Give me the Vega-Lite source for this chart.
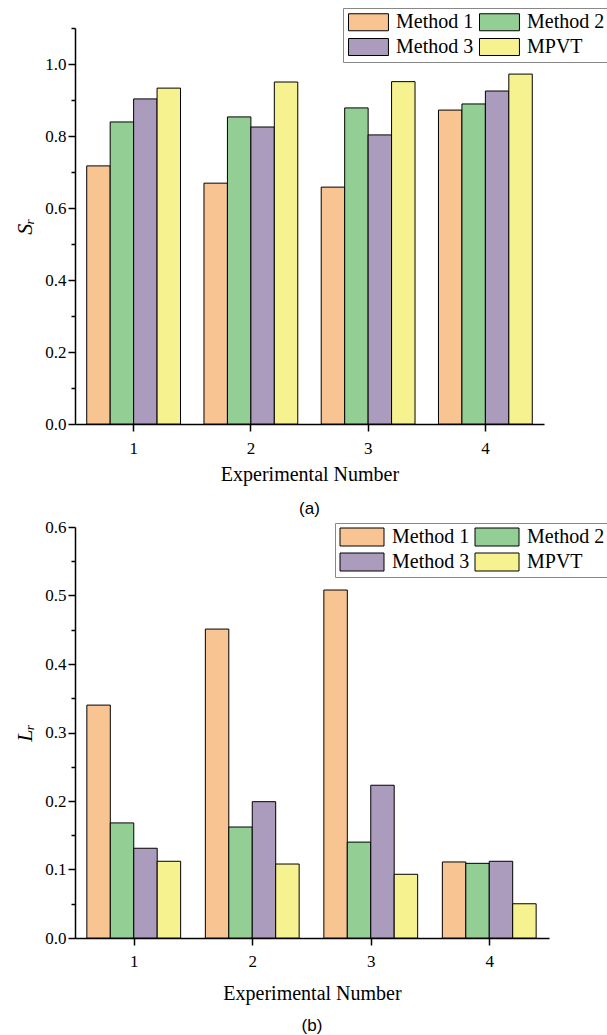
{
  "$schema": "https://vega.github.io/schema/vega-lite/v6.json",
  "background": "white",
  "padding": {"left": 13, "top": 7, "right": 0, "bottom": 0},
  "config": {
    "view": {"stroke": null},
    "axis": {
      "domainColor": "black", "domainWidth": 1.5, "tickColor": "black", "tickWidth": 1.5,
      "labelFont": "Liberation Serif", "labelFontSize": 17, "labelColor": "black",
      "titleFont": "Liberation Serif", "titleFontSize": 20, "titleFontWeight": "normal", "titleColor": "black",
      "grid": false
    },
    "legend": {
      "labelFont": "Liberation Serif", "labelFontSize": 20, "labelColor": "black",
      "symbolStrokeColor": "black", "symbolStrokeWidth": 1, "symbolOpacity": 1,
      "strokeColor": "#888888", "fillColor": "white", "padding": 4,
      "columns": 2, "direction": "horizontal", "columnPadding": 3, "title": null
    }
  },
  "datasets": {
    "sr": [
      {"exp": "1", "method": "Method 1", "value": 0.717},
      {"exp": "1", "method": "Method 2", "value": 0.839},
      {"exp": "1", "method": "Method 3", "value": 0.903},
      {"exp": "1", "method": "MPVT", "value": 0.933},
      {"exp": "2", "method": "Method 1", "value": 0.669},
      {"exp": "2", "method": "Method 2", "value": 0.853},
      {"exp": "2", "method": "Method 3", "value": 0.825},
      {"exp": "2", "method": "MPVT", "value": 0.950},
      {"exp": "3", "method": "Method 1", "value": 0.658},
      {"exp": "3", "method": "Method 2", "value": 0.878},
      {"exp": "3", "method": "Method 3", "value": 0.803},
      {"exp": "3", "method": "MPVT", "value": 0.951},
      {"exp": "4", "method": "Method 1", "value": 0.872},
      {"exp": "4", "method": "Method 2", "value": 0.889},
      {"exp": "4", "method": "Method 3", "value": 0.925},
      {"exp": "4", "method": "MPVT", "value": 0.972}
    ],
    "lr": [
      {"exp": "1", "method": "Method 1", "value": 0.340},
      {"exp": "1", "method": "Method 2", "value": 0.168},
      {"exp": "1", "method": "Method 3", "value": 0.131},
      {"exp": "1", "method": "MPVT", "value": 0.112},
      {"exp": "2", "method": "Method 1", "value": 0.451},
      {"exp": "2", "method": "Method 2", "value": 0.162},
      {"exp": "2", "method": "Method 3", "value": 0.199},
      {"exp": "2", "method": "MPVT", "value": 0.108},
      {"exp": "3", "method": "Method 1", "value": 0.508},
      {"exp": "3", "method": "Method 2", "value": 0.140},
      {"exp": "3", "method": "Method 3", "value": 0.223},
      {"exp": "3", "method": "MPVT", "value": 0.093},
      {"exp": "4", "method": "Method 1", "value": 0.111},
      {"exp": "4", "method": "Method 2", "value": 0.109},
      {"exp": "4", "method": "Method 3", "value": 0.112},
      {"exp": "4", "method": "MPVT", "value": 0.050}
    ]
  },
  "spacing": 1,
  "resolve": {"scale": {"color": "independent"}, "legend": {"color": "independent"}},
  "vconcat": [
    {
      "width": 469, "height": 396,
      "data": {"name": "sr"},
      "title": {"text": "(a)", "orient": "bottom", "font": "Liberation Sans", "fontSize": 17, "fontWeight": "normal", "color": "black", "offset": 17},
      "mark": {"type": "bar", "stroke": "black", "strokeWidth": 1},
      "encoding": {
        "x": {"field": "exp", "type": "nominal", "scale": {"paddingInner": 0.2, "paddingOuter": 0.1},
              "axis": {"title": "Experimental Number", "labelAngle": 0, "tickSize": 7, "labelPadding": 9, "titlePadding": 8,
                       "labelFont": "Liberation Serif", "labelFontSize": 17}},
        "xOffset": {"field": "method", "sort": ["Method 1", "Method 2", "Method 3", "MPVT"], "scale": {"paddingInner": 0, "paddingOuter": 0}},
        "y": {"field": "value", "type": "quantitative", "scale": {"domain": [0, 1.1], "nice": false},
              "axis": {"title": "Sᵣ", "titleFontStyle": "italic", "titleFontSize": 22, "titlePadding": 8,
                       "labelFont": "Liberation Serif", "labelFontSize": 17,
                       "values": [0, 0.1, 0.2, 0.3, 0.4, 0.5, 0.6, 0.7, 0.8, 0.9, 1.0, 1.1],
                       "labelExpr": "round(datum.value*10) % 2 == 0 ? format(datum.value, '.1f') : ''",
                       "tickSize": {"condition": {"test": "round(datum.value*10) % 2 == 0", "value": 7}, "value": 4}}},
        "color": {"field": "method", "type": "nominal", "sort": ["Method 1", "Method 2", "Method 3", "MPVT"],
                  "scale": {"domain": ["Method 1", "Method 2", "Method 3", "MPVT"], "range": ["#F8C592", "#93CF94", "#AB9BBD", "#F6F28F"]},
                  "legend": {"orient": "none", "legendX": 268, "legendY": -20, "direction": "horizontal", "columns": 2,
                             "symbolType": "M-1,-1H3.7V1H-1Z", "symbolSize": 289, "labelOffset": 29, "rowPadding": 3}}
      }
    },
    {
      "width": 474, "height": 411,
      "data": {"name": "lr"},
      "title": {"text": "(b)", "orient": "bottom", "font": "Liberation Sans", "fontSize": 17, "fontWeight": "normal", "color": "black", "offset": 15},
      "mark": {"type": "bar", "stroke": "black", "strokeWidth": 1},
      "encoding": {
        "x": {"field": "exp", "type": "nominal", "scale": {"paddingInner": 0.2, "paddingOuter": 0.1},
              "axis": {"title": "Experimental Number", "labelAngle": 0, "tickSize": 7, "labelPadding": 8, "titlePadding": 14,
                       "labelFont": "Liberation Serif", "labelFontSize": 17}},
        "xOffset": {"field": "method", "sort": ["Method 1", "Method 2", "Method 3", "MPVT"], "scale": {"paddingInner": 0, "paddingOuter": 0}},
        "y": {"field": "value", "type": "quantitative", "scale": {"domain": [0, 0.6], "nice": false},
              "axis": {"title": "Lᵣ", "titleFontStyle": "italic", "titleFontSize": 22, "titlePadding": 8,
                       "labelFont": "Liberation Serif", "labelFontSize": 17,
                       "values": [0, 0.05, 0.1, 0.15, 0.2, 0.25, 0.3, 0.35, 0.4, 0.45, 0.5, 0.55, 0.6],
                       "labelExpr": "round(datum.value*20) % 2 == 0 ? format(datum.value, '.1f') : ''",
                       "tickSize": {"condition": {"test": "round(datum.value*20) % 2 == 0", "value": 7}, "value": 4}}},
        "color": {"field": "method", "type": "nominal", "sort": ["Method 1", "Method 2", "Method 3", "MPVT"],
                  "scale": {"domain": ["Method 1", "Method 2", "Method 3", "MPVT"], "range": ["#F8C592", "#93CF94", "#AB9BBD", "#F6F28F"]},
                  "legend": {"orient": "none", "legendX": 260, "legendY": -4, "direction": "horizontal", "columns": 2,
                             "symbolType": "M-1,-1H3.89V1H-1Z", "symbolSize": 324, "labelOffset": 33, "rowPadding": 3}}
      }
    }
  ]
}
